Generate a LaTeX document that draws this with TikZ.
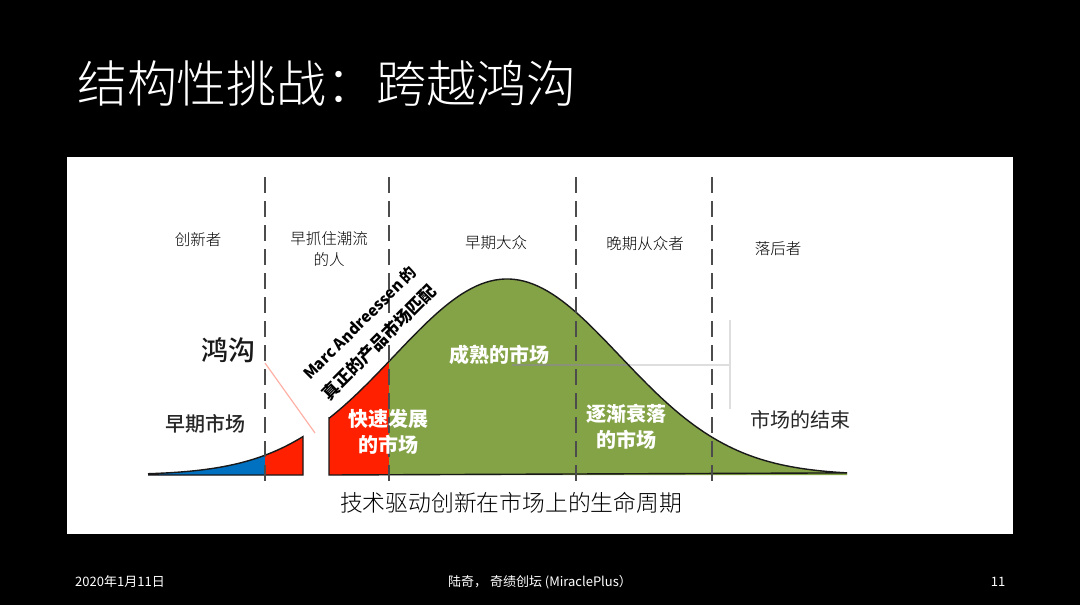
\documentclass[tikz,border=0pt]{standalone}
\usepackage{fontspec}
\setmainfont{Noto Sans CJK SC}
\newfontfamily\lightfont{Noto Sans CJK SC Light}
\newfontfamily\mediumfont{Noto Sans CJK SC Medium}
\definecolor{bellgreen}{HTML}{84A246}
\definecolor{gapred}{HTML}{FF2000}
\definecolor{earlyblue}{HTML}{0070C0}
\tikzset{
    declare function={bell(\x)=475-196*exp(-0.5*((\x-507)/113)^2);},
    phase/.style={align=center,font=\fontsize{15.5}{21}\selectfont\lightfont,text=black},
    marketw/.style={align=center,font=\fontsize{20}{26}\selectfont\bfseries,text=white},
    marketb/.style={align=center,font=\fontsize{20}{26}\selectfont,text=black!85},
    footer/.style={font=\fontsize{13}{15}\selectfont,text=white},
    divider/.style={draw=black!70,line width=1.6pt,dash pattern=on 16pt off 8pt},
    curve/.style={draw=black!90,line width=1.4pt},
}
\begin{document}
\begin{tikzpicture}[x=1pt,y=-1pt]
    \fill[black] (0,0) rectangle (1080,605);
    \useasboundingbox (0,0) rectangle (1080,605);
    \fill[white] (67,157) rectangle (1013,534);

    \fill[earlyblue] (148,475) -- plot[domain=148:265,samples=30] (\x,{bell(\x)}) -- (265,475) -- cycle;
    \fill[gapred] (265,475) -- plot[domain=265:303,samples=10] (\x,{bell(\x)}) -- (303,475) -- cycle;
    \fill[gapred] (329,475) -- plot[domain=329:389,samples=15] (\x,{bell(\x)}) -- (389,475) -- cycle;
    \fill[bellgreen] (389,475) -- plot[domain=389:847,samples=90] (\x,{bell(\x)}) -- (847,475) -- cycle;

    \coordinate (endl) at (512,365);
    \coordinate (endm) at (630,365);
    \coordinate (endr) at (730,365);
    \coordinate (endt) at (730,320);
    \coordinate (endb) at (730,409);
    \draw[black!45,opacity=.7,line width=1.2pt] (endl) -- (endm);
    \draw[black!13,line width=1.6pt] (endm) -- (endr);
    \draw[black!13,line width=1.6pt] (endt) -- (endb);

    \draw[curve] plot[domain=148:303,samples=35] (\x,{bell(\x)}) -- (303,475) -- (148,475);
    \draw[curve] (329,475) -- (329,417) -- plot[domain=329:847,samples=110] (\x,{bell(\x)}) -- cycle;

    \coordinate (gaptop) at (265,363);
    \coordinate (gapend) at (315,433);
    \draw[gapred!35,line width=1.2pt] (gaptop) -- (gapend);

    \foreach \name/\xpos in {a/265,b/389,c/576,d/712}{
        \coordinate (\name top) at (\xpos,177);
        \coordinate (\name bot) at (\xpos,485);
        \draw[divider] (\name top) -- (\name bot);
    }

    \node (title) at (327,83) [text=white,font=\fontsize{50}{56}\selectfont\lightfont] {结构性挑战：跨越鸿沟};

    \node[phase] (innov) at (198,240) {创新者};
    \node[phase] (adopt) at (329,249) {早抓住潮流\\的人};
    \node[phase] (emaj) at (496,243) {早期大众};
    \node[phase] (lmaj) at (645,244) {晚期从众者};
    \node[phase] (lag) at (778,249) {落后者};

    \node (chasm) at (228,350) [font=\fontsize{27}{30}\selectfont\mediumfont,text=black!90] {鸿沟};
    \node[marketb] (early) at (205,424) {\mediumfont 早期市场};
    \node[marketw] (fast) at (388,432) {快速发展\\的市场};
    \node[marketw] (mature) at (499,355) {成熟的市场};
    \node[marketw] (decline) at (626,427) {逐渐衰落\\的市场};
    \node[marketb] (over) at (800,420) {市场的结束};
    \node (pmf) at (370,333) [rotate=45,align=center,font=\fontsize{17}{24}\selectfont\bfseries] {{\fontsize{15.5}{24}\selectfont Marc Andreessen 的}\\[4pt]真正的产品市场匹配};
    \node (caption) at (511,503) [font=\fontsize{22.8}{26}\selectfont\lightfont,text=black] {技术驱动创新在市场上的生命周期};

    \node[footer] (date) at (120,582) {2020年1月11日};
    \node[footer] (org) at (540,582) {陆奇， 奇绩创坛 (MiraclePlus）};
    \node[footer] (page) at (998,582) {11};
\end{tikzpicture}
\end{document}
